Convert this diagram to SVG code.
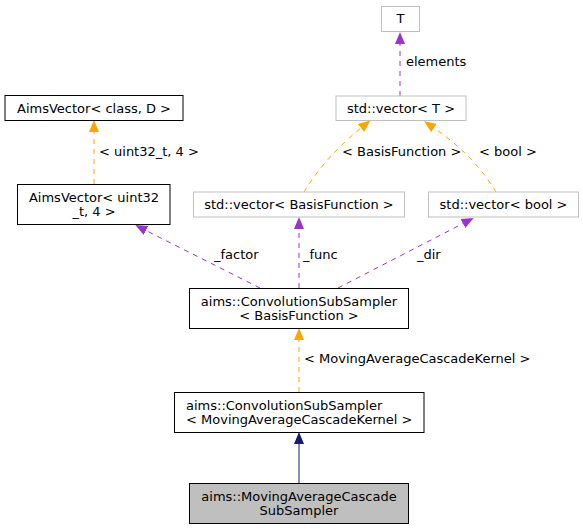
<svg xmlns="http://www.w3.org/2000/svg" width="583" height="529" viewBox="0 0 583 529">
<defs>
<style>
text{font-family:"DejaVu Sans","Liberation Sans",sans-serif;font-size:13px;fill:#000}
.c{text-anchor:middle}
.n{fill:#fff;stroke:#000;stroke-width:1}
.g{fill:#fff;stroke:#bfbfbf;stroke-width:1}
.h{fill:#bfbfbf;stroke:#000;stroke-width:1}
.e{fill:none;stroke-width:1}
.p{stroke:#9a32cd;stroke-dasharray:5,5}
.o{stroke:#ffa500;stroke-dasharray:5,5}
.b{stroke:#191970}
</style>
<marker id="ap" markerUnits="userSpaceOnUse" markerWidth="12" markerHeight="10" refX="0" refY="5" orient="auto" viewBox="0 0 12 10"><path d="M0,0 L12,5 L0,10 z" fill="#9a32cd"/></marker>
<marker id="ao" markerUnits="userSpaceOnUse" markerWidth="12" markerHeight="10" refX="0" refY="5" orient="auto" viewBox="0 0 12 10"><path d="M0,0 L12,5 L0,10 z" fill="#ffa500"/></marker>
<marker id="ab" markerUnits="userSpaceOnUse" markerWidth="12" markerHeight="10" refX="0" refY="5" orient="auto" viewBox="0 0 12 10"><path d="M0,0 L12,5 L0,10 z" fill="#191970"/></marker>
</defs>
<rect width="583" height="529" fill="#fff"/>
<g id="edges">
<path class="e p" d="M400,96 L400,44" marker-end="url(#ap)"/>
<text x="406" y="66">elements</text>
<path class="e o" d="M304,192 C316,172 334,150 361,128" marker-end="url(#ao)"/>
<text x="342" y="156">&lt; BasisFunction &gt;</text>
<path class="e o" d="M496,192 C484,172 466,150 434,128" marker-end="url(#ao)"/>
<text x="479" y="156">&lt; bool &gt;</text>
<path class="e o" d="M94,184 L94,132" marker-end="url(#ao)"/>
<text x="99" y="156">&lt; uint32_t, 4 &gt;</text>
<path class="e p" d="M260,288 L146,230.5" marker-end="url(#ap)"/>
<text x="214" y="259">_factor</text>
<path class="e p" d="M299,288 L299,229" marker-end="url(#ap)"/>
<text x="303" y="259">_func</text>
<path class="e p" d="M338,288 L463,223.5" marker-end="url(#ap)"/>
<text x="417" y="259">_dir</text>
<path class="e o" d="M299,392 L299,340" marker-end="url(#ao)"/>
<text x="304" y="363">&lt; MovingAverageCascadeKernel &gt;</text>
<path class="e b" d="M299,483 L299,444" marker-end="url(#ab)"/>
</g>
<g id="node-T">
<rect class="g" x="381.5" y="6.5" width="38" height="25"/>
<text class="c" x="400.5" y="23">T</text>
</g>
<g id="node-vectorT">
<rect class="g" x="336" y="96" width="130" height="24.5"/>
<text class="c" x="401" y="112.5">std::vector&lt; T &gt;</text>
</g>
<g id="node-aimsvector">
<rect class="n" x="5" y="95.5" width="178" height="25"/>
<text class="c" x="94" y="112.5">AimsVector&lt; class, D &gt;</text>
</g>
<g id="node-aimsvector-uint32">
<rect class="n" x="17.5" y="184.5" width="152.5" height="40"/>
<text class="c" x="94" y="201.5">AimsVector&lt; uint32</text>
<text class="c" x="94" y="215.5">_t, 4 &gt;</text>
</g>
<g id="node-vectorBF">
<rect class="g" x="193.5" y="192" width="211" height="25"/>
<text class="c" x="299" y="208.5">std::vector&lt; BasisFunction &gt;</text>
</g>
<g id="node-vectorbool">
<rect class="g" x="428.5" y="192" width="150" height="25"/>
<text class="c" x="503.5" y="208.5">std::vector&lt; bool &gt;</text>
</g>
<g id="node-convBF">
<rect class="n" x="189.5" y="288.5" width="219" height="40"/>
<text class="c" x="299" y="305.5">aims::ConvolutionSubSampler</text>
<text class="c" x="299" y="319.5">&lt; BasisFunction &gt;</text>
</g>
<g id="node-convMACK">
<rect class="n" x="174.5" y="392.5" width="249.5" height="40"/>
<text x="186" y="409.5">aims::ConvolutionSubSampler</text>
<text x="186" y="423.5">&lt; MovingAverageCascadeKernel &gt;</text>
</g>
<g id="node-macss">
<rect class="h" x="189.5" y="483.5" width="219" height="40"/>
<text class="c" x="299" y="500.5">aims::MovingAverageCascade</text>
<text class="c" x="299" y="514.5">SubSampler</text>
</g>
</svg>
